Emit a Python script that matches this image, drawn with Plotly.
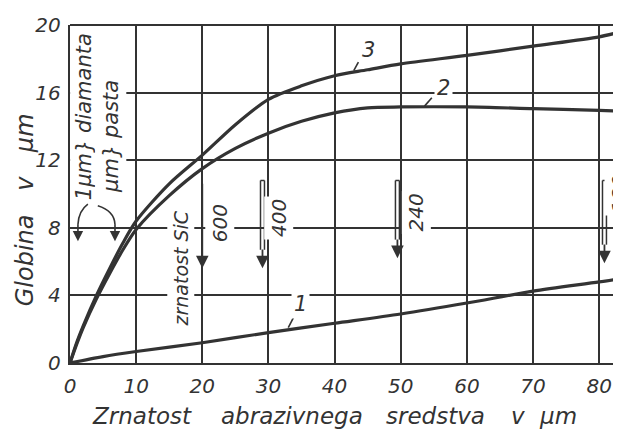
import plotly.graph_objects as go

# ---- data ----
x3 = [0, 1, 2, 4, 6, 8, 10, 15, 20, 25, 30, 35, 40, 45, 50, 60, 70, 80, 83.3]
y3 = [0, 1.2, 2.2, 4.0, 5.6, 7.1, 8.4, 10.6, 12.3, 14.1, 15.6, 16.4, 17.0, 17.35, 17.7, 18.2, 18.75, 19.3, 19.6]

x2 = [0, 1, 2, 4, 6, 8, 10, 15, 20, 25, 30, 35, 40, 45, 50, 60, 70, 80, 83.3]
y2 = [0, 1.1, 2.1, 3.8, 5.3, 6.7, 7.9, 9.9, 11.5, 12.7, 13.6, 14.3, 14.8, 15.1, 15.15, 15.15, 15.05, 14.95, 14.9]

x1 = [0, 5, 10, 20, 30, 40, 50, 60, 70, 80, 83.3]
y1 = [0, 0.38, 0.68, 1.2, 1.8, 2.35, 2.9, 3.55, 4.25, 4.8, 5.0]

x_ticks = [0, 10, 20, 30, 40, 50, 60, 70, 80]
y_ticks = [0, 4, 8, 12, 16, 20]

# axis title words (placed word by word, as spaced in the reference)
x_title_words = ["Zrnatost", "abrazivnega", "sredstva", "v", "μm"]
x_title_pos = [0.131, 0.402, 0.664, 0.813, 0.886]
y_title_words = ["Globina", "v", "μm"]
y_title_pos = [0.304, 0.533, 0.680]

# SiC grit markers
sic_x = [20, 29.1, 49.5, 80.8]
sic_labels = ["600", "400", "240", "180"]
sic_top = [10.7, 10.8, 10.8, 10.8]
sic_tip = [5.6, 5.6, 6.2, 5.9]
sic_double = [False, True, True, True]
sic_label_x = [22.6, 31.5, 52.3, 83.0]
sic_label_y = [8.3, 8.6, 8.9, 10.0]

# curve labels
curve_names = ["1", "2", "3"]
curve_label_x = [34.8, 56.4, 45.2]
curve_label_y = [3.5, 16.3, 18.5]
leader_x0 = [33.8, 54.7, 43.6]
leader_y0 = [2.7, 15.7, 17.8]
leader_x1 = [33.0, 53.6, 42.9]
leader_y1 = [2.1, 15.2, 17.3]

INK = "#333333"
FONT = "DejaVu Sans"

fig = go.Figure()
for xs, ys in [(x3, y3), (x2, y2), (x1, y1)]:
    fig.add_trace(go.Scatter(x=xs, y=ys, mode="lines",
                             line=dict(color=INK, width=3.2, shape="spline", smoothing=0.8),
                             showlegend=False, hoverinfo="skip"))

annotations = []
shapes = []

# SiC arrows
for xv, lab, top, tip, dbl, lx, ly in zip(sic_x, sic_labels, sic_top, sic_tip,
                                          sic_double, sic_label_x, sic_label_y):
    if dbl:
        for dx in (-0.3, 0.3):
            shapes.append(dict(type="line", xref="x", yref="y", x0=xv + dx, x1=xv + dx,
                               y0=top, y1=tip + 1.1, line=dict(color=INK, width=1.5)))
        shapes.append(dict(type="line", xref="x", yref="y", x0=xv - 0.3, x1=xv + 0.3,
                           y0=top, y1=top, line=dict(color=INK, width=1.5)))
        annotations.append(dict(x=xv, y=tip, ax=xv, ay=tip + 1.2, xref="x", yref="y",
                                axref="x", ayref="y", text="", showarrow=True,
                                arrowhead=2, arrowsize=1.4, arrowwidth=1.8, arrowcolor=INK))
    else:
        annotations.append(dict(x=xv, y=tip, ax=xv, ay=top, xref="x", yref="y",
                                axref="x", ayref="y", text="", showarrow=True,
                                arrowhead=2, arrowsize=1.4, arrowwidth=1.8, arrowcolor=INK))
    annotations.append(dict(x=lx, y=ly, xref="x", yref="y", text=lab, showarrow=False,
                            textangle=-90, bgcolor="white", borderpad=2,
                            font=dict(family=FONT, size=20, color=INK, style="italic")))

annotations.append(dict(x=16.8, y=5.6, xref="x", yref="y", text="zrnatost SiC",
                        showarrow=False, textangle=-90, bgcolor="white", borderpad=2,
                        font=dict(family=FONT, size=19, color=INK, style="italic")))

# diamond paste labels
annotations.append(dict(x=2.1, y=14.6, xref="x", yref="y", text="1μm} diamanta",
                        showarrow=False, textangle=-90, bgcolor="white", borderpad=1,
                        font=dict(family=FONT, size=21, color=INK, style="italic")))
annotations.append(dict(x=6.1, y=13.4, xref="x", yref="y", text="μm} pasta",
                        showarrow=False, textangle=-90, bgcolor="white", borderpad=3,
                        font=dict(family=FONT, size=21, color=INK, style="italic")))
shapes.append(dict(type="path", xref="x", yref="y",
                   path="M 2.7,9.4 Q 1.3,9.0 1.2,8.2", line=dict(color=INK, width=1.6)))
shapes.append(dict(type="path", xref="x", yref="y",
                   path="M 4.2,9.3 Q 6.7,9.0 6.8,8.2", line=dict(color=INK, width=1.6)))
for xv in [1.2, 6.8]:
    annotations.append(dict(x=xv, y=7.2, ax=xv, ay=8.3, xref="x", yref="y",
                            axref="x", ayref="y", text="", showarrow=True,
                            arrowhead=2, arrowsize=1.3, arrowwidth=1.6, arrowcolor=INK))
shapes.append(dict(type="rect", xref="x", yref="y", x0=0.3, x1=9.2, y0=7.85, y1=8.15,
                   fillcolor="white", line=dict(width=0), layer="below"))
shapes.append(dict(type="line", xref="x", yref="y", x0=1.2, x1=6.8, y0=8, y1=8,
                   line=dict(color=INK, width=1.5, dash="dash")))

# curve labels with leaders
for name, lx, ly, a, b, c, d in zip(curve_names, curve_label_x, curve_label_y,
                                     leader_x0, leader_y0, leader_x1, leader_y1):
    annotations.append(dict(x=lx, y=ly, xref="x", yref="y", text=name, showarrow=False,
                            bgcolor="white", borderpad=2,
                            font=dict(family=FONT, size=21, color=INK, style="italic")))
    shapes.append(dict(type="line", xref="x", yref="y", x0=a, y0=b, x1=c, y1=d,
                       line=dict(color=INK, width=1.6)))

# frame top
shapes.append(dict(type="line", xref="paper", yref="paper", x0=0, x1=1, y0=1, y1=1,
                   line=dict(color=INK, width=2.2)))

# axis titles, word by word
for w, px in zip(x_title_words, x_title_pos):
    annotations.append(dict(x=px, y=-0.156, xref="paper", yref="paper", text=w,
                            showarrow=False, xanchor="center", yanchor="middle",
                            font=dict(family=FONT, size=23, color=INK, style="italic")))
for w, py in zip(y_title_words, y_title_pos):
    annotations.append(dict(x=-0.0817, y=py, xref="paper", yref="paper", text=w,
                            showarrow=False, textangle=-90, xanchor="center",
                            yanchor="middle",
                            font=dict(family=FONT, size=24, color=INK, style="italic")))

# page has an 8px body margin: figure is sized/margined to compensate
fig.update_layout(
    width=613, height=424,
    margin=dict(l=62, r=0, t=17, b=69),
    paper_bgcolor="white", plot_bgcolor="white",
    annotations=annotations, shapes=shapes,
)
fig.update_xaxes(range=[0, 83.3], tickvals=x_ticks, showgrid=True, gridcolor=INK,
                 gridwidth=1.6, showline=True, linecolor=INK, linewidth=2.4,
                 zeroline=False, ticks="", ticklabelstandoff=4,
                 tickfont=dict(family=FONT, size=20, color=INK, style="italic"))
fig.update_yaxes(range=[0, 20], tickvals=y_ticks, showgrid=True, gridcolor=INK,
                 gridwidth=1.6, showline=True, linecolor=INK, linewidth=2.4,
                 zeroline=False, ticks="", ticklabelstandoff=3,
                 tickfont=dict(family=FONT, size=20, color=INK, style="italic"))

fig.write_html("out.html")
